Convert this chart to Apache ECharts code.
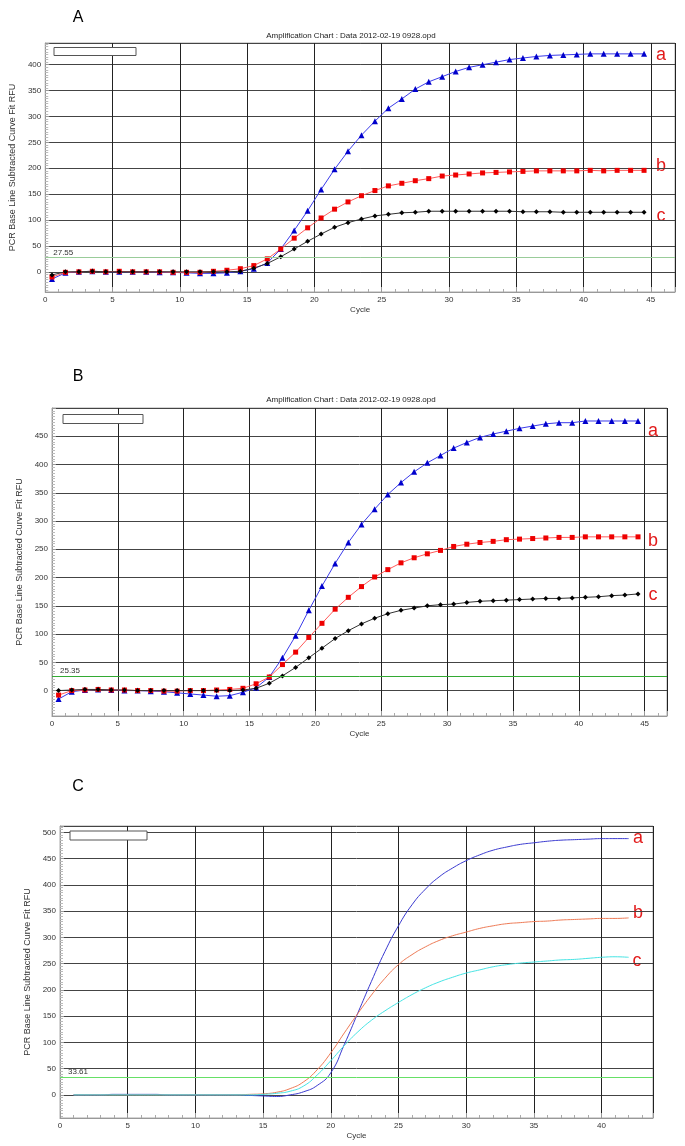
<!DOCTYPE html>
<html>
<head>
<meta charset="utf-8">
<script src="https://cdn.jsdelivr.net/npm/echarts@6/dist/echarts.min.js"></script>
<style>
  html, body { margin: 0; padding: 0; background: #fff; }
  #chart { width: 685px; height: 1146px; }
</style>
</head>
<body>
<div id="chart"></div>
<script>
// cycles for panels A and B (points sit on half cycles)
const cyclesAB = [0.5, 1.5, 2.5, 3.5, 4.5, 5.5, 6.5, 7.5, 8.5, 9.5,
  10.5, 11.5, 12.5, 13.5, 14.5, 15.5, 16.5, 17.5, 18.5, 19.5,
  20.5, 21.5, 22.5, 23.5, 24.5, 25.5, 26.5, 27.5, 28.5, 29.5,
  30.5, 31.5, 32.5, 33.5, 34.5, 35.5, 36.5, 37.5, 38.5, 39.5,
  40.5, 41.5, 42.5, 43.5, 44.5];
// cycles for panel C
const cyclesC = [1, 2, 3, 4, 5, 6, 7, 8, 9, 10, 11, 12, 13, 14, 15, 16, 17, 18, 19, 20,
  21, 22, 23, 24, 25, 26, 27, 28, 29, 30, 31, 32, 33, 34, 35, 36, 37, 38, 39, 40, 41, 42];

// panel A
const aA = [-14, -2, 0, 1, 0, 0, 0, 0, -1, -1, -2, -3, -3, -2, 1, 6, 17, 44, 80, 118,
  159, 198, 233, 264, 291, 316, 334, 353, 367, 377, 387, 395, 400, 405, 410, 413, 416, 418, 419, 420,
  421, 421, 421, 421, 421];
const bA = [-10, -1, 0, 1, 0, 1, 0, 0, 0, -1, -1, -1, 1, 3, 6, 12, 25, 44, 65, 85,
  104, 121, 135, 147, 157, 166, 171, 176, 180, 185, 187, 189, 191, 192, 193, 194, 195, 195, 195, 195,
  196, 195, 196, 196, 196];
const cA = [-6, 0, 0, 1, 0, 0, 0, 0, 0, 0, 0, 0, 0, 0, 1, 7, 16, 29, 44, 59,
  73, 86, 95, 102, 108, 111, 114, 115, 117, 117, 117, 117, 117, 117, 117, 116, 116, 116, 115, 115,
  115, 115, 115, 115, 115];
const thresholdA = 27.55;

// panel B
const aB = [-15, -2, 1, 2, 1, 0, 0, -1, -2, -4, -6, -8, -10, -9, -3, 5, 24, 58, 97, 142,
  185, 225, 262, 294, 321, 347, 368, 387, 403, 416, 429, 439, 448, 454, 459, 464, 468, 472, 474, 474,
  477, 477, 477, 477, 477];
const bB = [-8, 0, 1, 2, 1, 1, 0, 0, -1, -1, 0, 0, 1, 2, 4, 12, 24, 46, 68, 94,
  119, 144, 165, 184, 201, 214, 226, 235, 242, 248, 255, 259, 262, 264, 267, 268, 269, 270, 271, 271,
  272, 272, 272, 272, 272];
const cB = [0, 1, 2, 2, 1, 1, 0, 0, 0, 0, 0, 0, 0, 0, 1, 4, 13, 26, 41, 58,
  75, 92, 106, 118, 128, 136, 142, 146, 150, 152, 153, 156, 158, 159, 160, 161, 162, 163, 163, 164,
  165, 166, 168, 169, 171];
const thresholdB = 25.35;

// panel C
const aC = [0, 0, 0, 1, 1, 1, 1, 0, 0, 0, 0, 0, 0, -1, -2, -3, 0, 6, 18, 42,
  96, 156, 216, 273, 322, 362, 392, 415, 432, 446, 457, 466, 472, 477, 480, 483, 485, 486, 487, 488,
  488, 488];
const bC = [0, 0, 0, 0, 0, 0, 0, 0, 0, 0, 0, 0, 0, 1, 2, 5, 12, 25, 48, 80,
  118, 155, 190, 222, 248, 267, 282, 294, 303, 310, 317, 322, 326, 328, 330, 331, 333, 334, 335, 336,
  336, 337];
const cC = [0, 0, 0, 0, 0, 0, 0, 0, 0, 0, 0, 0, 0, 0, 1, 3, 7, 17, 38, 65,
  94, 120, 142, 160, 176, 191, 204, 215, 224, 232, 238, 244, 248, 251, 253, 255, 257, 258, 260, 262,
  263, 262];
const thresholdC = 33.61;

const chartTitle = "Amplification Chart : Data 2012-02-19 0928.opd";
const yName = "PCR Base Line Subtracted Curve Fit RFU";

const FONT = "Liberation Sans";

const zip = (xs, ys) => xs.map((x, i) => [x, ys[i]]);

const chart = echarts.init(document.getElementById("chart"), null, { renderer: "canvas" });

// one x axis per panel
const makeX = (idx, max) => ({
  type: "value",
  gridIndex: idx,
  min: 0,
  max: max,
  interval: 5,
  name: "Cycle",
  nameLocation: "middle",
  nameGap: 14,
  nameTextStyle: { fontFamily: FONT, fontSize: 8, color: "#333" },
  axisLine: { onZero: false, lineStyle: { color: "#999" } },
  axisTick: { inside: true, length: 5, lineStyle: { color: "#999" } },
  minorTick: { show: true, splitNumber: 5, length: 3, lineStyle: { color: "#aaa" } },
  axisLabel: { fontFamily: FONT, fontSize: 8, color: "#333", margin: 4, showMaxLabel: false },
  splitLine: { show: true, lineStyle: { color: "#222", width: 1 } }
});

const makeY = (idx, min, max, gap) => ({
  type: "value",
  gridIndex: idx,
  min: min,
  max: max,
  splitNumber: 10,
  name: yName,
  nameLocation: "middle",
  nameGap: gap,
  nameTextStyle: { fontFamily: FONT, fontSize: 9, color: "#333" },
  axisLine: { show: true, lineStyle: { color: "#999" } },
  axisTick: { inside: true, length: 4, lineStyle: { color: "#999" } },
  minorTick: { show: true, splitNumber: 10, length: 3, lineStyle: { color: "#bbb" } },
  axisLabel: { fontFamily: FONT, fontSize: 8, color: "#333", margin: 4, showMinLabel: false, showMaxLabel: false },
  splitLine: { show: true, lineStyle: { color: "#444", width: 1 } }
});

const thresholdLine = (val, color) => ({
  silent: true,
  symbol: "none",
  lineStyle: { color: color, type: "solid", width: 1 },
  label: {
    position: "insideStartTop",
    formatter: String(val),
    fontFamily: FONT, fontSize: 8, color: "#333", distance: [8, 1]
  },
  data: [{ yAxis: val }]
});

const markerSeries = (idx, data, sym, size, color, lineColor) => ({
  type: "line",
  xAxisIndex: idx,
  yAxisIndex: idx,
  data: data,
  symbol: sym,
  symbolSize: size,
  showAllSymbol: true,
  itemStyle: { color: color },
  lineStyle: { color: lineColor, width: 1 }
});

const smoothSeries = (data, color) => ({
  type: "line",
  xAxisIndex: 2,
  yAxisIndex: 2,
  data: data,
  smooth: 0.5,
  showSymbol: false,
  lineStyle: { color: color, width: 1 }
});

const sA = markerSeries(0, zip(cyclesAB, aA), "triangle", 6, "#0000cc", "#3b3bea");
sA.markLine = thresholdLine(thresholdA, "#9c9");
const sB = markerSeries(1, zip(cyclesAB, aB), "triangle", 6, "#0000cc", "#3b3bea");
sB.markLine = thresholdLine(thresholdB, "#3a3");
const sC = smoothSeries(zip(cyclesC, aC), "#3a3ad0");
sC.markLine = thresholdLine(thresholdC, "#66e066");

const txt = (x, y, text, size, color, align) => ({
  type: "text",
  x: x, y: y,
  style: {
    text: text, fontSize: size, fill: color, fontFamily: FONT,
    align: align || "center", verticalAlign: "middle"
  }
});
const box = (x, y, w, h) => ({
  type: "rect",
  shape: { x: x, y: y, width: w, height: h },
  style: { fill: "#fff", stroke: "#555", lineWidth: 1 },
  z: 100
});

chart.setOption({
  animation: false,
  backgroundColor: "#fff",
  grid: [
    { left: 43, top: 43, width: 632, height: 249, show: true, borderColor: "#aaa", borderWidth: 1 },
    { left: 52, top: 408, width: 615, height: 308, show: true, borderColor: "#aaa", borderWidth: 1 },
    { left: 60, top: 826, width: 593, height: 292, show: true, borderColor: "#aaa", borderWidth: 1 }
  ],
  xAxis: [makeX(0, 46.8), makeX(1, 46.7), makeX(2, 43.8)],
  yAxis: [makeY(0, -39, 442, 26), makeY(1, -45, 500, 26), makeY(2, -44, 512, 26)],
  series: [
    sA,
    markerSeries(0, zip(cyclesAB, bA), "rect", 5, "#ee0000", "#ff5a5a"),
    markerSeries(0, zip(cyclesAB, cA), "diamond", 5, "#000000", "#333333"),
    sB,
    markerSeries(1, zip(cyclesAB, bB), "rect", 5, "#ee0000", "#ff5a5a"),
    markerSeries(1, zip(cyclesAB, cB), "diamond", 5, "#000000", "#333333"),
    sC,
    smoothSeries(zip(cyclesC, bC), "#ee7a55"),
    smoothSeries(zip(cyclesC, cC), "#44e4e4")
  ],
  graphic: [
    txt(78, 18, "A", 16, "#000"),
    txt(78, 377, "B", 16, "#000"),
    txt(78, 787, "C", 16, "#000"),
    txt(351, 36, chartTitle, 8, "#222"),
    txt(351, 400, chartTitle, 8, "#222"),
    box(54, 47.5, 82, 8),
    box(63, 414.5, 80, 9),
    box(70, 831, 77, 9),
    txt(661, 55, "a", 18, "#e21b1b"),
    txt(661, 166, "b", 18, "#e21b1b"),
    txt(661, 216, "c", 18, "#e21b1b"),
    txt(653, 431, "a", 18, "#e21b1b"),
    txt(653, 541, "b", 18, "#e21b1b"),
    txt(653, 595, "c", 18, "#e21b1b"),
    txt(638, 838, "a", 18, "#e21b1b"),
    txt(638, 913, "b", 18, "#e21b1b"),
    txt(637, 961, "c", 18, "#e21b1b")
  ]
});
</script>
</body>
</html>
